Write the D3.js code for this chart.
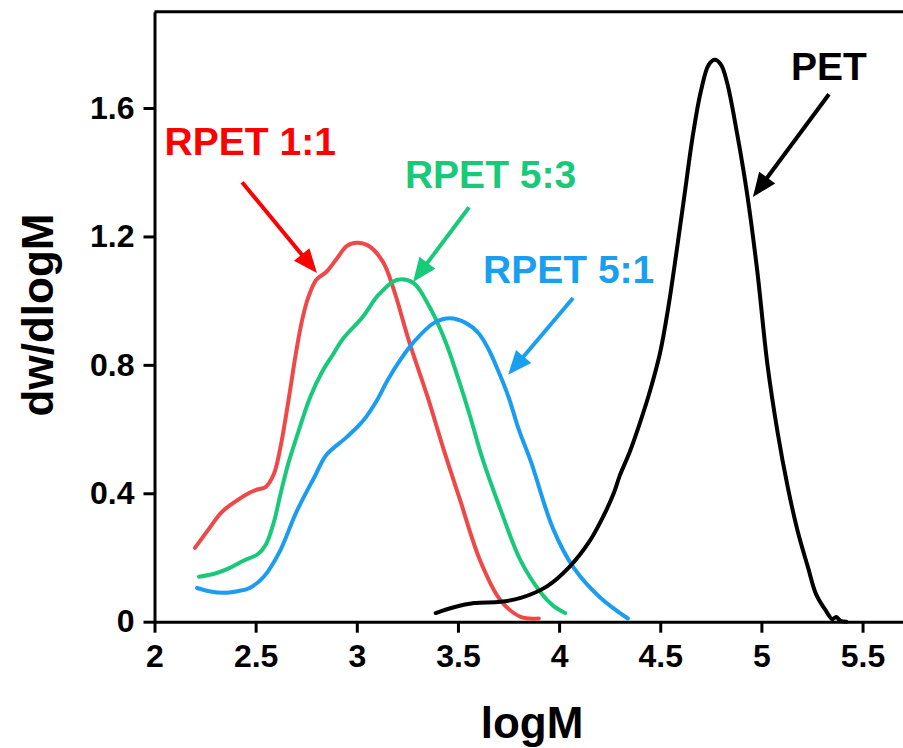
<!DOCTYPE html>
<html>
<head>
<meta charset="utf-8">
<script src="https://cdn.jsdelivr.net/npm/d3@7"></script>
<style>
  body { margin: 0; background: #fff; }
  text { font-family: Arial, "Liberation Sans", sans-serif; font-weight: bold; }
</style>
</head>
<body>
<div id="chart"></div>
<script>
// GPC curves, [logM, dw/dlogM]
const rpet11 = [[2.20,0.23],[2.27,0.29],[2.33,0.34],[2.39,0.37],[2.45,0.395],[2.50,0.41],[2.55,0.42],[2.59,0.46],[2.62,0.535],[2.66,0.68],[2.70,0.84],[2.73,0.94],[2.76,1.01],[2.80,1.065],[2.85,1.09],[2.90,1.13],[2.95,1.17],[3.00,1.18],[3.06,1.17],[3.13,1.12],[3.18,1.04],[3.26,0.87],[3.35,0.70],[3.43,0.535],[3.51,0.38],[3.61,0.19],[3.71,0.067],[3.81,0.015],[3.90,0.01]]
const rpet53 = [[2.22,0.14],[2.30,0.15],[2.37,0.167],[2.44,0.19],[2.51,0.21],[2.55,0.24],[2.59,0.31],[2.62,0.39],[2.66,0.49],[2.70,0.57],[2.77,0.70],[2.83,0.78],[2.88,0.83],[2.93,0.88],[3.03,0.95],[3.11,1.02],[3.20,1.065],[3.28,1.055],[3.36,0.98],[3.44,0.87],[3.50,0.76],[3.56,0.64],[3.62,0.51],[3.71,0.35],[3.81,0.19],[3.91,0.09],[3.97,0.05],[4.03,0.027]]
const rpet51 = [[2.21,0.105],[2.27,0.095],[2.34,0.09],[2.41,0.095],[2.47,0.105],[2.54,0.14],[2.62,0.22],[2.70,0.34],[2.79,0.45],[2.85,0.52],[2.95,0.575],[3.03,0.625],[3.10,0.69],[3.15,0.75],[3.22,0.82],[3.28,0.87],[3.38,0.93],[3.46,0.945],[3.54,0.93],[3.60,0.90],[3.65,0.85],[3.70,0.78],[3.75,0.70],[3.80,0.60],[3.86,0.50],[3.97,0.29],[4.07,0.17],[4.20,0.077],[4.34,0.01]]
const pet = [[3.39,0.027],[3.48,0.045],[3.58,0.058],[3.71,0.062],[3.81,0.074],[3.94,0.11],[4.05,0.17],[4.15,0.25],[4.22,0.33],[4.27,0.40],[4.30,0.455],[4.35,0.53],[4.40,0.62],[4.45,0.72],[4.50,0.84],[4.54,0.98],[4.58,1.15],[4.62,1.33],[4.66,1.51],[4.70,1.65],[4.74,1.735],[4.77,1.75],[4.80,1.735],[4.83,1.68],[4.88,1.52],[4.93,1.33],[4.98,1.09],[5.03,0.80],[5.08,0.59],[5.13,0.42],[5.18,0.28],[5.23,0.17],[5.27,0.086],[5.32,0.033],[5.35,0.008],[5.37,0.015],[5.39,0.003],[5.42,0.0]]

const xTicks = [2, 2.5, 3, 3.5, 4, 4.5, 5, 5.5]
const yTicks = [0, 0.4, 0.8, 1.2, 1.6]

// label text + anchor, arrow start/tip, all in data units
const labels = [
  { text: 'RPET 1:1', x: 2.05, y: 1.454, color: '#ff0000' },
  { text: 'RPET 5:3', x: 3.238, y: 1.351, color: '#19c97a' },
  { text: 'RPET 5:1', x: 3.624, y: 1.055, color: '#1a9ff0' },
  { text: 'PET', x: 5.146, y: 1.687, color: '#000000' }
]
const arrows = [
  { x0: 2.433, y0: 1.369, x1: 2.803, y1: 1.086, color: '#ff0000' },
  { x0: 3.555, y0: 1.291, x1: 3.278, y1: 1.058, color: '#19c97a' },
  { x0: 4.069, y0: 1.008, x1: 3.748, y1: 0.769, color: '#1a9ff0' },
  { x0: 5.334, y0: 1.643, x1: 4.958, y1: 1.323, color: '#000000' }
]

const series = [
  { data: rpet11, color: '#ef4848' },
  { data: rpet53, color: '#19c97a' },
  { data: rpet51, color: '#1a9cf0' },
  { data: pet, color: '#000000' }
]

const fullWidth = 903,
  fullHeight = 748,
  margin = { top: 11.7, left: 154.5 },
  height = 610

const x = d3.scaleLinear().domain([2, 5.75]).range([margin.left, margin.left + 3.75 * 202.3])
const y = d3.scaleLinear().domain([0, 1.9]).range([margin.top + height, margin.top])

const svg = d3.select('#chart')
  .append('svg')
  .attr('width', fullWidth)
  .attr('height', fullHeight)

// top frame line
svg.append('line')
  .attr('x1', x(2)).attr('x2', x(5.75))
  .attr('y1', y(1.9)).attr('y2', y(1.9))
  .attr('stroke', '#000').attr('stroke-width', 3)

const xAxis = svg.append('g')
  .attr('transform', `translate(0, ${y(0)})`)
  .call(d3.axisBottom(x).tickValues(xTicks).tickFormat(d3.format('')).tickSize(11).tickSizeOuter(0).tickPadding(12))

const yAxis = svg.append('g')
  .attr('transform', `translate(${x(2)}, 0)`)
  .call(d3.axisLeft(y).tickValues(yTicks).tickFormat(d3.format('')).tickSize(11).tickSizeOuter(0).tickPadding(9))

;[xAxis, yAxis].forEach(g => {
  g.select('.domain').attr('stroke-width', 3)
  g.selectAll('.tick line').attr('stroke-width', 3)
  g.selectAll('.tick text')
    .attr('fill', '#000')
    .style('font-size', '32px')
    .style('font-family', 'Arial, "Liberation Sans", sans-serif')
    .style('font-weight', 'bold')
})

svg.append('text')
  .attr('x', 532).attr('y', 738)
  .attr('text-anchor', 'middle')
  .style('font-size', '44px')
  .text('logM')

svg.append('text')
  .attr('transform', 'translate(53, 315) rotate(-90)')
  .attr('text-anchor', 'middle')
  .style('font-size', '44px')
  .text('dw/dlogM')

const line = d3.line()
  .x(d => x(d[0]))
  .y(d => y(d[1]))
  .curve(d3.curveCatmullRom.alpha(0.5))

svg.selectAll('.curve')
  .data(series)
  .enter()
  .append('path')
  .attr('class', 'curve')
  .attr('d', d => line(d.data))
  .attr('fill', 'none')
  .attr('stroke', d => d.color)
  .attr('stroke-width', 4)
  .attr('stroke-linejoin', 'round')
  .attr('stroke-linecap', 'round')

// arrows: shaft + filled head
const headLen = 24, headHalf = 10
arrows.forEach(a => {
  const sx = x(a.x0), sy = y(a.y0), tx = x(a.x1), ty = y(a.y1)
  const ang = Math.atan2(ty - sy, tx - sx)
  const bx = tx - headLen * Math.cos(ang), by = ty - headLen * Math.sin(ang)
  const px = -Math.sin(ang) * headHalf, py = Math.cos(ang) * headHalf
  svg.append('line')
    .attr('x1', sx).attr('y1', sy)
    .attr('x2', bx + 2 * Math.cos(ang)).attr('y2', by + 2 * Math.sin(ang))
    .attr('stroke', a.color).attr('stroke-width', 4)
  svg.append('path')
    .attr('d', `M${tx},${ty}L${bx + px},${by + py}L${bx - px},${by - py}Z`)
    .attr('fill', a.color)
})

svg.selectAll('.label')
  .data(labels)
  .enter()
  .append('text')
  .attr('class', 'label')
  .attr('x', d => x(d.x))
  .attr('y', d => y(d.y))
  .attr('fill', d => d.color)
  .style('font-size', '39px')
  .text(d => d.text)
</script>
</body>
</html>
